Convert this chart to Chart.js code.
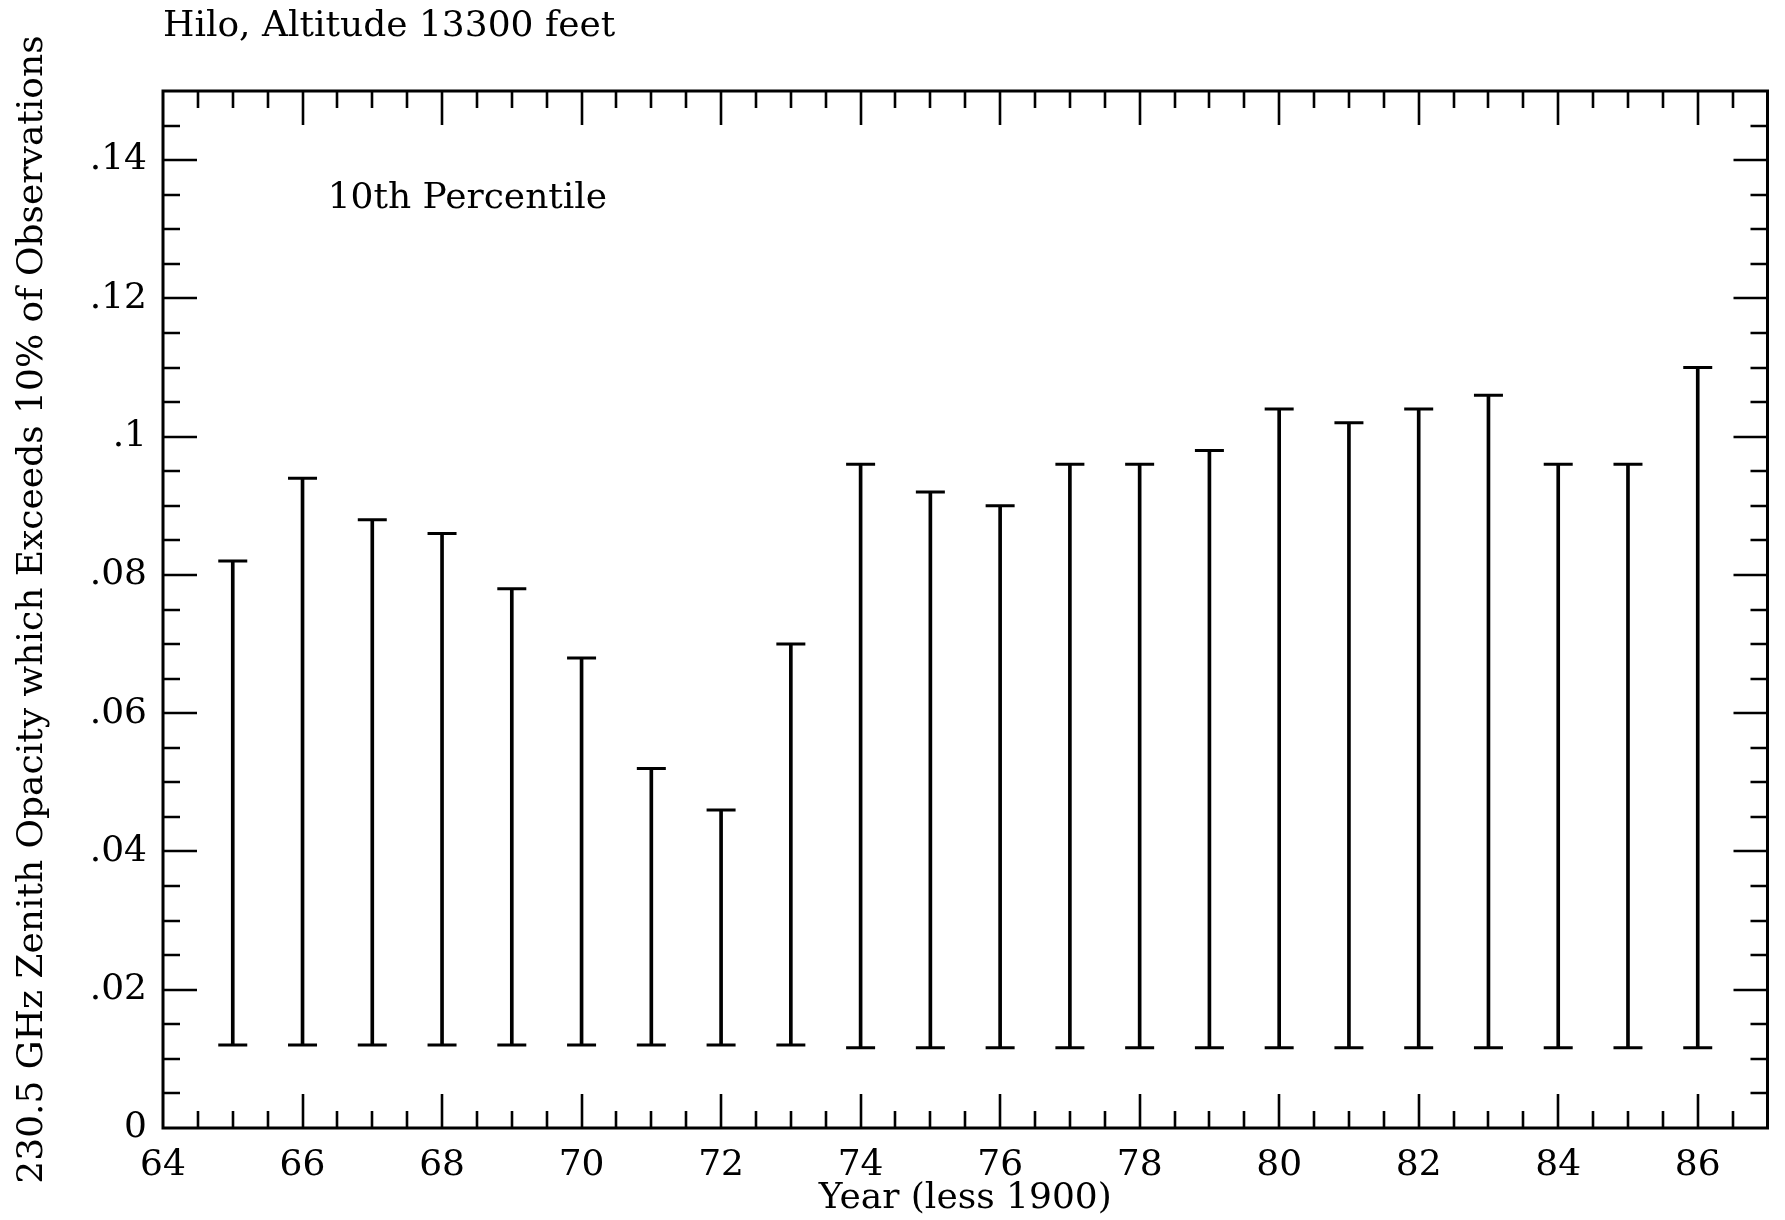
<!DOCTYPE html>
<html>
<head>
<meta charset="utf-8">
<title>Hilo, Altitude 13300 feet</title>
<script src="https://cdn.jsdelivr.net/npm/chart.js@4/dist/chart.umd.min.js"></script>
<style>
  html, body { margin: 0; padding: 0; background: #fff; overflow: hidden; }
  #wrap { width: 1785px; height: 1220px; position: relative; }
</style>
</head>
<body>
<div id="wrap"><canvas id="chart"></canvas></div>
<script>
// Yearly 10th-percentile ranges of 230.5 GHz zenith opacity
const years = [65, 66, 67, 68, 69, 70, 71, 72, 73, 74, 75, 76, 77, 78, 79, 80, 81, 82, 83, 84, 85, 86];
const upper = [0.082, 0.094, 0.088, 0.086, 0.078, 0.068, 0.052, 0.046, 0.070, 0.096, 0.092,
               0.090, 0.096, 0.096, 0.098, 0.104, 0.102, 0.104, 0.106, 0.096, 0.096, 0.110];
const lower = [0.012, 0.012, 0.012, 0.012, 0.012, 0.012, 0.012, 0.012, 0.012, 0.0116, 0.0116,
               0.0116, 0.0116, 0.0116, 0.0116, 0.0116, 0.0116, 0.0116, 0.0116, 0.0116, 0.0116, 0.0116];

// Axis ticks and labels
const xTickValues = [64, 66, 68, 70, 72, 74, 76, 78, 80, 82, 84, 86];
const xTickLabels = ['64', '66', '68', '70', '72', '74', '76', '78', '80', '82', '84', '86'];
const yTickValues = [0, 0.02, 0.04, 0.06, 0.08, 0.10, 0.12, 0.14];
const yTickLabels = ['0', '.02', '.04', '.06', '.08', '.1', '.12', '.14'];

// Text
const titleText = 'Hilo, Altitude 13300 feet';
const noteText = '10th Percentile';
const xTitleText = 'Year (less 1900)';
const yTitleText = '230.5 GHz Zenith Opacity which Exceeds 10% of Observations';

const FONT = "'DejaVu Serif', 'Liberation Serif', serif";
const X_RANGE = [64, 87];
const Y_RANGE = [0, 0.15];
const NOTE_AT = { x: 66.36, y: 0.1345 };

// Boxed frame with inward ticks on all four sides, plus the in-plot note
const framePlugin = {
  id: 'frameTicks',
  afterDatasetsDraw(chart) {
    const { ctx, chartArea: a, scales } = chart;
    const xs = scales.x, ys = scales.y;
    ctx.save();
    ctx.strokeStyle = '#000';
    ctx.lineWidth = 3;
    ctx.strokeRect(a.left, a.top, a.right - a.left, a.bottom - a.top);

    ctx.lineWidth = 2.6;
    ctx.beginPath();
    for (let k = 1; k < (X_RANGE[1] - X_RANGE[0]) * 2; k++) {
      const v = X_RANGE[0] + k * 0.5;
      const px = Math.round(xs.getPixelForValue(v));
      const len = (v % 2 === 0) ? 34 : 17;
      ctx.moveTo(px, a.bottom); ctx.lineTo(px, a.bottom - len);
      ctx.moveTo(px, a.top); ctx.lineTo(px, a.top + len);
    }
    for (let k = 1; k < 30; k++) {
      const v = k * 0.005;
      const py = Math.round(ys.getPixelForValue(v));
      const len = (k % 4 === 0) ? 34 : 17;
      ctx.moveTo(a.left, py); ctx.lineTo(a.left + len, py);
      ctx.moveTo(a.right, py); ctx.lineTo(a.right - len, py);
    }
    ctx.stroke();

    ctx.fillStyle = '#000';
    ctx.font = '36px ' + FONT;
    ctx.textAlign = 'left';
    ctx.textBaseline = 'middle';
    ctx.fillText(noteText, xs.getPixelForValue(NOTE_AT.x), ys.getPixelForValue(NOTE_AT.y));
    ctx.restore();
  }
};

const stems = years.map((yr, i) => ({ x: yr, y: [lower[i], upper[i]] }));
const topCaps = years.map((yr, i) => ({ x: yr, y: upper[i] }));
const bottomCaps = years.map((yr, i) => ({ x: yr, y: lower[i] }));

const capStyle = {
  type: 'scatter',
  pointStyle: 'line',
  pointRadius: 14.5,
  pointHoverRadius: 14.5,
  borderWidth: 3,
  borderColor: '#000',
  backgroundColor: '#000'
};

new Chart(document.getElementById('chart'), {
  type: 'bar',
  data: {
    datasets: [
      { type: 'bar', label: 'range', data: stems, barThickness: 3, backgroundColor: '#000', borderWidth: 0 },
      Object.assign({ label: 'upper', data: topCaps }, capStyle),
      Object.assign({ label: 'lower', data: bottomCaps }, capStyle)
    ]
  },
  options: {
    responsive: true,
    maintainAspectRatio: false,
    animation: false,
    devicePixelRatio: 1,
    layout: { padding: { left: 0, right: 14, top: 0, bottom: 0 } },
    plugins: {
      legend: { display: false },
      tooltip: { enabled: false },
      title: {
        display: true,
        text: titleText,
        align: 'start',
        fullSize: false,
        color: '#000',
        font: { family: FONT, size: 36, weight: 'normal' },
        padding: { top: 5, bottom: 42.8 }
      }
    },
    scales: {
      x: {
        type: 'linear',
        min: X_RANGE[0],
        max: X_RANGE[1],
        offset: false,
        grid: { display: false, drawTicks: false },
        border: { display: false },
        afterBuildTicks: s => { s.ticks = xTickValues.map(v => ({ value: v })); },
        afterFit: s => { s.height = 92; },
        ticks: {
          autoSkip: false,
          maxRotation: 0,
          padding: 16,
          color: '#000',
          font: { family: FONT, size: 36 },
          callback: v => xTickLabels[xTickValues.indexOf(v)]
        },
        title: {
          display: true,
          text: xTitleText,
          color: '#000',
          font: { family: FONT, size: 36 },
          padding: { top: 0, bottom: 0 }
        }
      },
      y: {
        type: 'linear',
        min: Y_RANGE[0],
        max: Y_RANGE[1],
        grid: { display: false, drawTicks: false },
        border: { display: false },
        afterBuildTicks: s => { s.ticks = yTickValues.map(v => ({ value: v })); },
        afterFit: s => { s.width = 163; },
        ticks: {
          autoSkip: false,
          padding: 16,
          color: '#000',
          font: { family: FONT, size: 36 },
          callback: v => {
            const i = yTickValues.findIndex(t => Math.abs(t - v) < 1e-9);
            return i >= 0 ? yTickLabels[i] : '';
          }
        },
        title: {
          display: true,
          text: yTitleText,
          color: '#000',
          font: { family: FONT, size: 36 },
          padding: { top: 11, bottom: 0 }
        }
      }
    }
  },
  plugins: [framePlugin]
});
</script>
</body>
</html>
